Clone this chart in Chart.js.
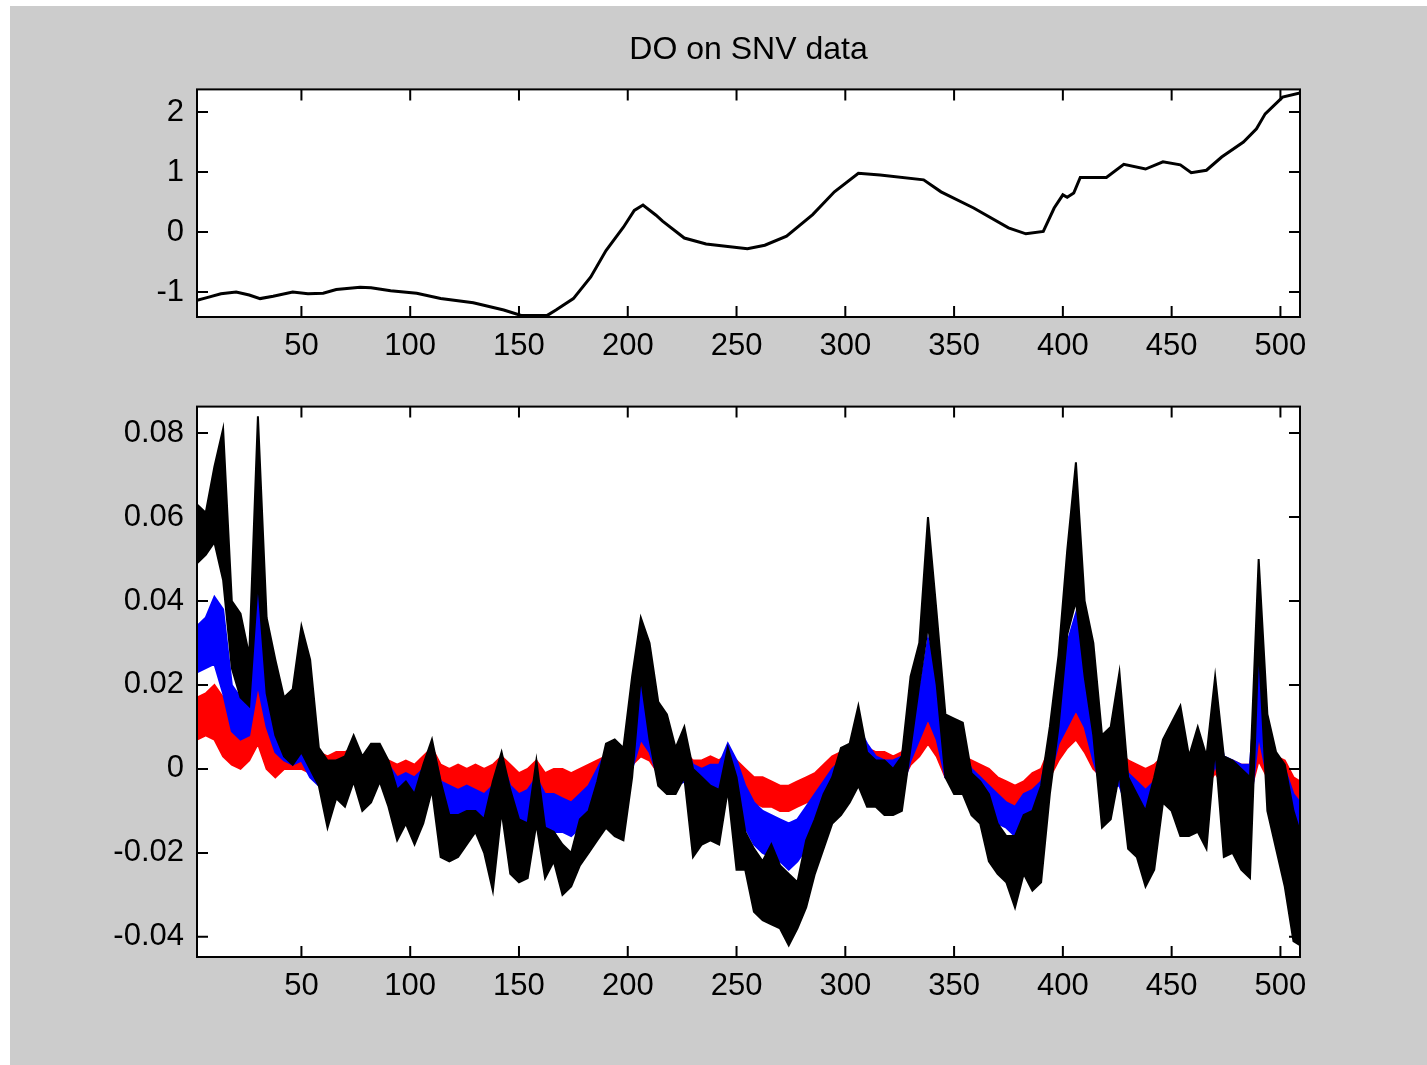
<!DOCTYPE html>
<html>
<head>
<meta charset="utf-8">
<title>DO on SNV data</title>
<script src="https://cdn.jsdelivr.net/npm/chart.js@4.4.1/dist/chart.umd.min.js"></script>
<style>
  html, body { margin: 0; padding: 0; background: #fff; }
  #fig { position: absolute; left: 10px; top: 6px; width: 1417px; height: 1059px; background: #cccccc; }
  .box { position: absolute; left: 0; width: 1427px; }
  #topBox { top: 0; height: 380px; }
  #bottomBox { top: 375px; height: 690px; }
</style>
</head>
<body>
<div id="fig"></div>
<div class="box" id="topBox"><canvas id="topChart"></canvas></div>
<div class="box" id="bottomBox"><canvas id="bottomChart"></canvas></div>
<script>
// tick labels
const xTicks = [50, 100, 150, 200, 250, 300, 350, 400, 450, 500];
const topYTicks = [-1, 0, 1, 2];
const bottomYTicks = [-0.04, -0.02, 0, 0.02, 0.04, 0.06, 0.08];

// upper panel: SNV spectrum
const topX = [2, 7, 13, 20, 26, 31, 37, 46, 53, 60, 66, 77, 82, 91, 103, 114, 129, 143, 151, 163,
  167, 175, 183, 190, 198, 203, 207, 213, 216, 226, 236, 246, 255, 263, 273, 285, 295, 306, 316, 336,
  344, 359, 375, 383, 391, 396, 400, 402, 405, 408, 420, 428, 438, 446, 454, 459, 466, 473, 483, 489,
  493, 501, 509];
const topY = [-1.14, -1.09, -1.03, -1.00, -1.05, -1.11, -1.07, -1.00, -1.03, -1.02, -0.96, -0.92, -0.93, -0.98, -1.02, -1.11, -1.18, -1.30, -1.39, -1.39,
  -1.30, -1.11, -0.75, -0.31, 0.08, 0.36, 0.45, 0.28, 0.18, -0.10, -0.20, -0.24, -0.28, -0.22, -0.07, 0.29, 0.67, 0.98, 0.95, 0.87,
  0.67, 0.40, 0.07, -0.03, 0.01, 0.40, 0.62, 0.58, 0.65, 0.91, 0.91, 1.13, 1.05, 1.17, 1.12, 0.99, 1.03, 1.25, 1.50, 1.72,
  1.97, 2.25, 2.32];

// lower panel: channel positions and upper / lower edges of each group of curves
const channels = [2, 6, 10, 14, 18, 22, 26, 30, 34, 38,
  42, 46, 50, 54, 58, 62, 66, 70, 74, 78,
  82, 86, 90, 94, 98, 102, 106, 110, 114, 118,
  122, 126, 130, 134, 138, 142, 146, 150, 154, 158,
  162, 166, 170, 174, 178, 182, 186, 190, 194, 198,
  202, 206, 210, 214, 218, 222, 226, 230, 234, 238,
  242, 246, 250, 254, 258, 262, 266, 270, 274, 278,
  282, 286, 290, 294, 298, 302, 306, 310, 314, 318,
  322, 326, 330, 334, 338, 342, 346, 350, 354, 358,
  362, 366, 370, 374, 378, 382, 386, 390, 394, 398,
  402, 406, 410, 414, 418, 422, 426, 430, 434, 438,
  442, 446, 450, 454, 458, 462, 466, 470, 474, 478,
  482, 486, 490, 494, 498, 502, 506, 509];

const blackHi = [0.063, 0.061, 0.072, 0.081, 0.040, 0.037, 0.027, 0.084, 0.036, 0.026,
  0.017, 0.019, 0.034, 0.026, 0.005, 0.002, 0.002, 0.003, 0.008, 0.003,
  0.006, 0.006, 0.002, -0.005, -0.003, -0.006, 0.001, 0.007, -0.003, -0.011,
  -0.011, -0.010, -0.010, -0.012, -0.003, 0.004, -0.005, -0.012, -0.013, 0.002,
  -0.014, -0.015, -0.018, -0.020, -0.012, -0.010, -0.003, 0.006, 0.007, 0.005,
  0.022, 0.036, 0.030, 0.016, 0.013, 0.005, 0.010, 0.000, -0.002, -0.004,
  -0.005, 0.005, -0.002, -0.015, -0.019, -0.022, -0.018, -0.023, -0.025, -0.027,
  -0.017, -0.012, -0.006, -0.002, 0.005, 0.006, 0.015, 0.004, 0.002, 0.002,
  0.000, 0.003, 0.022, 0.030, 0.060, 0.037, 0.013, 0.012, 0.011, -0.001,
  -0.003, -0.006, -0.013, -0.016, -0.016, -0.011, -0.010, -0.004, 0.010, 0.027,
  0.052, 0.073, 0.040, 0.030, 0.008, 0.010, 0.023, -0.002, -0.006, -0.010,
  -0.002, 0.007, 0.011, 0.015, 0.003, 0.010, 0.003, 0.022, 0.003, 0.002,
  0.000, -0.002, 0.050, 0.013, 0.004, 0.001, -0.010, -0.015];
const blackLo = [0.049, 0.051, 0.054, 0.045, 0.024, 0.017, 0.015, 0.045, 0.018, 0.008,
  0.003, 0.001, 0.004, 0.000, -0.004, -0.014, -0.007, -0.009, -0.003, -0.010,
  -0.008, -0.003, -0.009, -0.017, -0.013, -0.018, -0.013, -0.005, -0.021, -0.022,
  -0.021, -0.018, -0.015, -0.020, -0.029, -0.010, -0.025, -0.027, -0.026, -0.013,
  -0.026, -0.022, -0.030, -0.028, -0.023, -0.020, -0.017, -0.014, -0.016, -0.017,
  -0.002, 0.022, 0.007, -0.004, -0.006, -0.006, -0.002, -0.021, -0.018, -0.017,
  -0.018, -0.005, -0.024, -0.024, -0.034, -0.036, -0.037, -0.038, -0.042, -0.038,
  -0.033, -0.025, -0.019, -0.013, -0.011, -0.008, -0.004, -0.009, -0.009, -0.011,
  -0.011, -0.010, 0.005, 0.020, 0.034, 0.020, -0.002, -0.006, -0.006, -0.011,
  -0.013, -0.022, -0.025, -0.027, -0.033, -0.025, -0.029, -0.027, -0.006, 0.010,
  0.032, 0.040, 0.022, 0.008, -0.014, -0.012, -0.001, -0.019, -0.021, -0.028,
  -0.024, -0.008, -0.010, -0.016, -0.016, -0.015, -0.019, 0.005, -0.021, -0.020,
  -0.024, -0.026, 0.030, -0.010, -0.019, -0.028, -0.041, -0.042];

const blueHi = [0.034, 0.036, 0.041, 0.038, 0.020, 0.017, 0.019, 0.042, 0.030, 0.013,
  0.010, 0.008, 0.013, 0.008, 0.003, 0.001, 0.002, 0.002, 0.004, 0.002,
  0.004, 0.003, 0.001, -0.002, -0.001, -0.002, 0.000, 0.006, -0.003, -0.004,
  -0.005, -0.004, -0.005, -0.006, -0.004, 0.002, -0.004, -0.006, -0.005, -0.002,
  -0.006, -0.006, -0.007, -0.008, -0.006, -0.004, 0.000, 0.004, 0.005, 0.002,
  0.012, 0.020, 0.017, 0.008, 0.007, 0.005, 0.006, 0.001, 0.000, 0.001,
  0.001, 0.006, 0.002, -0.004, -0.008, -0.010, -0.011, -0.012, -0.013, -0.012,
  -0.009, -0.006, -0.003, 0.000, 0.002, 0.002, 0.010, 0.006, 0.003, 0.002,
  0.002, 0.003, 0.014, 0.018, 0.031, 0.022, 0.007, 0.006, 0.004, 0.000,
  -0.002, -0.004, -0.006, -0.008, -0.009, -0.006, -0.005, -0.003, 0.006, 0.019,
  0.030, 0.037, 0.022, 0.011, 0.005, 0.006, 0.005, -0.001, -0.003, -0.005,
  -0.003, 0.004, 0.004, 0.004, 0.003, 0.005, 0.002, 0.013, 0.003, 0.002,
  0.001, 0.001, 0.028, 0.011, 0.003, 0.000, -0.006, -0.008];
const blueLo = [0.023, 0.024, 0.025, 0.018, 0.009, 0.007, 0.008, 0.020, 0.010, 0.004,
  0.002, 0.001, 0.002, -0.002, -0.004, -0.005, -0.004, -0.004, -0.002, -0.004,
  -0.003, -0.003, -0.005, -0.008, -0.009, -0.010, -0.008, -0.004, -0.011, -0.013,
  -0.012, -0.011, -0.012, -0.013, -0.014, -0.008, -0.014, -0.015, -0.013, -0.011,
  -0.014, -0.015, -0.015, -0.016, -0.014, -0.013, -0.011, -0.008, -0.009, -0.006,
  0.000, 0.007, 0.004, -0.002, -0.004, -0.004, -0.003, -0.008, -0.009, -0.010,
  -0.009, -0.004, -0.008, -0.014, -0.018, -0.020, -0.021, -0.022, -0.024, -0.022,
  -0.019, -0.016, -0.012, -0.009, -0.008, -0.007, -0.003, -0.005, -0.005, -0.006,
  -0.006, -0.005, 0.002, 0.007, 0.012, 0.007, -0.002, -0.003, -0.003, -0.006,
  -0.008, -0.010, -0.013, -0.014, -0.016, -0.014, -0.015, -0.012, -0.002, 0.006,
  0.010, 0.014, 0.010, 0.002, -0.005, -0.004, -0.004, -0.010, -0.012, -0.014,
  -0.013, -0.004, -0.004, -0.005, -0.005, -0.005, -0.006, 0.001, -0.006, -0.008,
  -0.009, -0.010, 0.008, -0.002, -0.006, -0.012, -0.022, -0.024];

const redHi = [0.017, 0.018, 0.020, 0.017, 0.012, 0.013, 0.014, 0.021, 0.014, 0.009,
  0.007, 0.007, 0.008, 0.005, 0.004, 0.003, 0.004, 0.004, 0.005, 0.003,
  0.004, 0.004, 0.002, 0.001, 0.002, 0.001, 0.003, 0.005, 0.001, 0.000,
  0.001, 0.000, 0.001, 0.000, 0.001, 0.003, 0.001, -0.001, 0.000, 0.002,
  -0.001, 0.000, 0.000, -0.001, 0.000, 0.001, 0.002, 0.003, 0.003, 0.002,
  0.006, 0.010, 0.009, 0.004, 0.004, 0.004, 0.004, 0.002, 0.002, 0.003,
  0.002, 0.004, 0.002, 0.000, -0.002, -0.002, -0.003, -0.004, -0.004, -0.003,
  -0.002, -0.001, 0.001, 0.003, 0.004, 0.005, 0.006, 0.005, 0.004, 0.004,
  0.003, 0.004, 0.008, 0.010, 0.014, 0.011, 0.004, 0.003, 0.003, 0.002,
  0.001, 0.000, -0.002, -0.003, -0.004, -0.003, -0.001, 0.000, 0.005, 0.010,
  0.014, 0.017, 0.012, 0.007, 0.003, 0.004, 0.004, 0.002, 0.001, 0.000,
  0.001, 0.003, 0.003, 0.003, 0.002, 0.003, 0.002, 0.005, 0.002, 0.002,
  0.001, 0.001, 0.011, 0.006, 0.003, 0.002, -0.002, -0.003];
const redLo = [0.007, 0.008, 0.007, 0.003, 0.001, 0.000, 0.002, 0.006, 0.000, -0.002,
  0.000, 0.000, 0.000, -0.001, -0.003, -0.003, -0.003, -0.003, -0.002, -0.003,
  -0.003, -0.002, -0.004, -0.004, -0.005, -0.005, -0.004, -0.002, -0.005, -0.006,
  -0.005, -0.006, -0.005, -0.006, -0.007, -0.004, -0.006, -0.007, -0.006, -0.005,
  -0.007, -0.007, -0.008, -0.008, -0.007, -0.006, -0.005, -0.004, -0.004, -0.003,
  0.001, 0.003, 0.002, -0.001, -0.002, -0.003, -0.002, -0.004, -0.004, -0.004,
  -0.004, -0.002, -0.004, -0.006, -0.008, -0.009, -0.009, -0.010, -0.010, -0.009,
  -0.008, -0.007, -0.005, -0.004, -0.003, -0.002, -0.002, -0.003, -0.003, -0.003,
  -0.004, -0.003, 0.001, 0.003, 0.006, 0.003, -0.002, -0.002, -0.003, -0.004,
  -0.005, -0.006, -0.008, -0.009, -0.010, -0.009, -0.008, -0.006, -0.002, 0.002,
  0.005, 0.007, 0.004, 0.000, -0.002, -0.002, -0.002, -0.004, -0.006, -0.007,
  -0.006, -0.003, -0.003, -0.003, -0.004, -0.004, -0.004, -0.001, -0.004, -0.005,
  -0.005, -0.006, 0.002, -0.002, -0.004, -0.006, -0.010, -0.012];

Chart.defaults.font.family = '"Liberation Sans", Arial, sans-serif';
Chart.defaults.color = '#000';

// white axes background, box and inward ticks on all four sides (matlab look)
const axesBox = {
  id: 'axesBox',
  beforeDraw(chart) {
    const a = chart.chartArea, ctx = chart.ctx;
    ctx.save();
    ctx.fillStyle = '#fff';
    ctx.fillRect(a.left, a.top, a.right - a.left, a.bottom - a.top);
    ctx.restore();
  },
  afterDraw(chart) {
    const a = chart.chartArea, ctx = chart.ctx;
    const xs = chart.scales.x, ys = chart.scales.y;
    const len = 11;
    ctx.save();
    ctx.strokeStyle = '#000';
    ctx.lineWidth = 2;
    ctx.beginPath();
    xs.ticks.forEach(t => {
      const p = xs.getPixelForValue(t.value);
      ctx.moveTo(p, a.bottom); ctx.lineTo(p, a.bottom - len);
      ctx.moveTo(p, a.top); ctx.lineTo(p, a.top + len);
    });
    ys.ticks.forEach(t => {
      const p = ys.getPixelForValue(t.value);
      ctx.moveTo(a.left, p); ctx.lineTo(a.left + len, p);
      ctx.moveTo(a.right, p); ctx.lineTo(a.right - len, p);
    });
    ctx.stroke();
    ctx.strokeRect(a.left, a.top, a.right - a.left, a.bottom - a.top);
    ctx.restore();
  }
};

function xAxis(height) {
  return {
    type: 'linear', min: 2, max: 509,
    afterBuildTicks: s => { s.ticks = xTicks.map(v => ({ value: v })); },
    afterFit: s => { s.height = height; },
    grid: { display: false, drawTicks: false },
    border: { display: false },
    ticks: { font: { size: 31 }, padding: 11, maxRotation: 0, autoSkip: false, callback: v => String(v) }
  };
}

function yAxis(min, max, values, fmt) {
  return {
    type: 'linear', min: min, max: max,
    afterBuildTicks: s => { s.ticks = values.map(v => ({ value: v })); },
    afterFit: s => { s.width = 197; },
    grid: { display: false, drawTicks: false },
    border: { display: false },
    ticks: { font: { size: 31 }, padding: 13, autoSkip: false, callback: fmt }
  };
}

new Chart(document.getElementById('topChart'), {
  type: 'line',
  data: {
    datasets: [{
      data: topX.map((x, i) => ({ x: x, y: topY[i] })),
      borderColor: '#000', borderWidth: 3, pointRadius: 0, tension: 0, fill: false
    }]
  },
  options: {
    responsive: true, maintainAspectRatio: false, animation: false,
    layout: { padding: { left: 0, right: 127, top: 0, bottom: 0 } },
    plugins: {
      legend: { display: false }, tooltip: { enabled: false },
      title: { display: true, fullSize: false, text: 'DO on SNV data', color: '#000',
        font: { size: 32, weight: 'normal' }, padding: { top: 31, bottom: 20 } }
    },
    scales: {
      x: xAxis(63),
      y: yAxis(-1.417, 2.378, topYTicks, v => String(v))
    }
  },
  plugins: [axesBox]
});

function group(hi, lo, color, order) {
  return [
    { data: channels.map((x, i) => ({ x: x, y: hi[i] })), borderColor: color, borderWidth: 2,
      pointRadius: 0, tension: 0, fill: false, order: order },
    { data: channels.map((x, i) => ({ x: x, y: lo[i] })), borderColor: color, backgroundColor: color,
      borderWidth: 2, pointRadius: 0, tension: 0, fill: '-1', order: order }
  ];
}

new Chart(document.getElementById('bottomChart'), {
  type: 'line',
  data: {
    datasets: [].concat(
      group(redHi, redLo, '#ff0000', 2),
      group(blueHi, blueLo, '#0000ff', 1),
      group(blackHi, blackLo, '#000000', 0)
    )
  },
  options: {
    responsive: true, maintainAspectRatio: false, animation: false,
    layout: { padding: { left: 0, right: 127, top: 0, bottom: 0 } },
    plugins: { legend: { display: false }, tooltip: { enabled: false } },
    scales: {
      x: xAxis(108),
      y: yAxis(-0.0448, 0.0863, bottomYTicks, v => (v === 0 ? '0' : v.toFixed(2)))
    }
  },
  plugins: [axesBox]
});
</script>
</body>
</html>
